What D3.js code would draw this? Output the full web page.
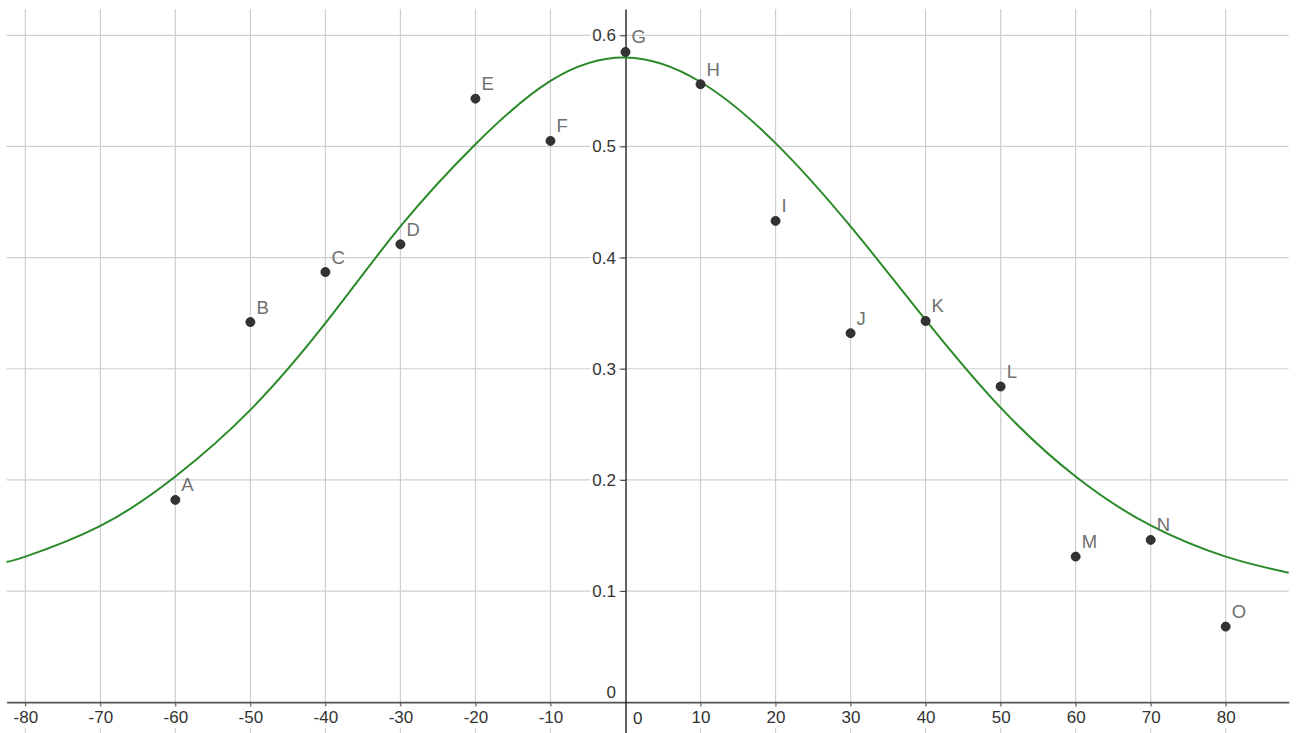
<!DOCTYPE html>
<html>
<head>
<meta charset="utf-8">
<script src="https://cdn.jsdelivr.net/npm/d3@7"></script>
<style>
  html, body { margin: 0; padding: 0; background: #fff; }
  svg { display: block; }
</style>
</head>
<body>
<svg id="chart" width="1298" height="733"></svg>
<script>
// ---- data ----
const pointNames = ["A","B","C","D","E","F","G","H","I","J","K","L","M","N","O"];
const pointX = [-60,-50,-40,-30,-20,-10,0,10,20,30,40,50,60,70,80];
const pointY = [0.182,0.342,0.387,0.412,0.543,0.505,0.585,0.556,0.433,0.332,0.343,0.284,0.131,0.146,0.068];

const curveX = [-82.5,-80,-70,-60,-50,-40,-30,-20,-10,0,10,20,30,40,50,60,70,80,88.4];
const curveY = [0.1265,0.131,0.1586,0.203,0.263,0.341,0.428,0.502,0.559,0.580,0.558,0.503,0.428,0.344,0.265,0.203,0.159,0.131,0.1164];

const xTickValues = [-80,-70,-60,-50,-40,-30,-20,-10,10,20,30,40,50,60,70,80];
const yTickValues = [0.1,0.2,0.3,0.4,0.5,0.6];
const xGridValues = [-80,-70,-60,-50,-40,-30,-20,-10,10,20,30,40,50,60,70,80];
const yGridValues = [0.1,0.2,0.3,0.4,0.5,0.6];

// ---- layout ----
const x0px = 625.5, pxPerX = 7.5025;
const y0px = 702.2, pxPerY = 1111.5;
const xDomain = [-82.5, 88.4];
const plotTop = 9, plotBottom = 733;

const x = d3.scaleLinear()
  .domain(xDomain)
  .range([x0px + xDomain[0]*pxPerX, x0px + xDomain[1]*pxPerX]);
const y = d3.scaleLinear()
  .domain([(y0px - plotBottom)/pxPerY, (y0px - plotTop)/pxPerY])
  .range([plotBottom, plotTop]);

const svg = d3.select("#chart");
const font = "'Liberation Sans', Arial, sans-serif";
const tickFont = "'Liberation Sans Narrow', 'Arial Narrow', 'Liberation Sans', sans-serif";
const tickSize = 17;

// grid
const grid = svg.append("g");
grid.selectAll("line.v").data(xGridValues).join("line")
  .attr("x1", d => x(d)).attr("x2", d => x(d))
  .attr("y1", y.range()[1]).attr("y2", y.range()[0])
  .attr("stroke", "#cfcfcf").attr("stroke-width", 1.2);
grid.selectAll("line.h").data(yGridValues).join("line")
  .attr("x1", x.range()[0]).attr("x2", x.range()[1])
  .attr("y1", d => y(d)).attr("y2", d => y(d))
  .attr("stroke", "#cfcfcf").attr("stroke-width", 1.2);

// x axis
const xAxis = svg.append("g")
  .attr("transform", `translate(0,${y(0)})`)
  .call(d3.axisBottom(x).tickValues(xTickValues).tickSize(4).tickSizeOuter(0).tickPadding(5)
        .tickFormat(d3.format("d")));
xAxis.select(".domain").attr("stroke", "#555").attr("stroke-width", 1.8);
xAxis.selectAll(".tick line").attr("stroke", "#555").attr("stroke-width", 1);
xAxis.selectAll(".tick text")
  .attr("font-family", tickFont).attr("font-size", tickSize).attr("fill", "#333")
  .text(d => d < 0 ? "-" + Math.abs(d) : String(d));

// y axis
const yAxis = svg.append("g")
  .attr("transform", `translate(${x(0)},0)`)
  .call(d3.axisLeft(y).tickValues(yTickValues).tickSize(5).tickSizeOuter(0).tickPadding(4.5)
        .tickFormat(d3.format(".1f")));
yAxis.select(".domain").attr("stroke", "#111").attr("stroke-width", 1.3);
yAxis.selectAll(".tick line").attr("stroke", "#333").attr("stroke-width", 1);
yAxis.selectAll(".tick text")
  .attr("font-family", tickFont).attr("font-size", tickSize).attr("fill", "#333");

// white label backgrounds
function addBg(sel) {
  sel.each(function() {
    const bb = this.getBBox();
    d3.select(this.parentNode).insert("rect", "text")
      .attr("x", bb.x - 2).attr("y", bb.y - 1)
      .attr("width", bb.width + 4).attr("height", bb.height + 2)
      .attr("fill", "#fff");
  });
}
addBg(xAxis.selectAll(".tick text"));
addBg(yAxis.selectAll(".tick text"));

// zero labels
const zeroG = svg.append("g").attr("font-family", tickFont).attr("font-size", tickSize).attr("fill", "#333");
zeroG.append("text").attr("x", x(0) - 9.5).attr("y", y(0) - 4).attr("text-anchor", "end").text("0");
zeroG.append("text").attr("x", x(0) + 7.5).attr("y", y(0) + 21.5).attr("text-anchor", "start").text("0");

// curve
const curveData = curveX.map((v, i) => [v, curveY[i]]);
svg.append("path")
  .datum(curveData)
  .attr("fill", "none")
  .attr("stroke", "#2a8a2a")
  .attr("stroke-width", 2)
  .attr("d", d3.line().x(d => x(d[0])).y(d => y(d[1])).curve(d3.curveNatural));

// points
const pts = pointNames.map((n, i) => ({ name: n, x: pointX[i], y: pointY[i] }));
svg.append("g").selectAll("circle").data(pts).join("circle")
  .attr("cx", d => x(d.x)).attr("cy", d => y(d.y)).attr("r", 4.5)
  .attr("fill", "#333").attr("stroke", "#1a1a1a").attr("stroke-width", 0.8);
svg.append("g").selectAll("text").data(pts).join("text")
  .attr("x", d => x(d.x) + 6).attr("y", d => y(d.y) - 8.5)
  .attr("font-family", font).attr("font-size", 18.5).attr("fill", "#707070")
  .text(d => d.name);
</script>
</body>
</html>
